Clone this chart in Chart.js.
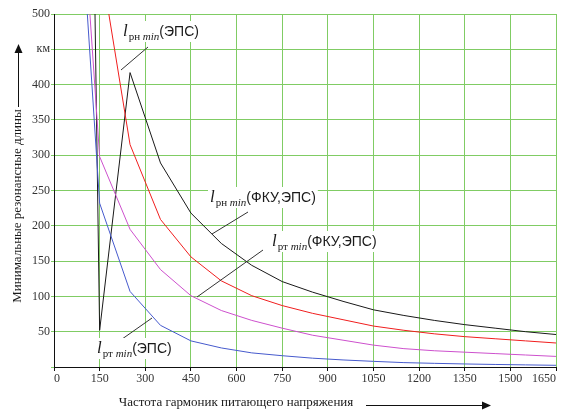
<!DOCTYPE html>
<html>
<head>
<meta charset="utf-8">
<script src="https://cdn.jsdelivr.net/npm/chart.js@4"></script>
<style>
    html, body { margin: 0; padding: 0; background: #fff; }
    #wrap { width: 563px; height: 412px; }
</style>
</head>
<body>
<div id="wrap"><canvas id="res-chart" width="563" height="412"></canvas></div>
<script>
// --- data (odd harmonics, Hz / km) ---
const freqs = [50, 150, 250, 350, 450, 550, 650, 750, 850, 950, 1050, 1150, 1250, 1350, 1450, 1550, 1650];
const lpnEps    = [1700, 580, 315, 209, 156, 122, 101, 87, 76, 67, 58, 52, 47, 43, 40, 37, 34];      // red
const lpnFkuEps = [3000, 52, 417, 289, 218, 175, 144, 121, 106, 93, 81, 73, 66, 60, 55, 50, 46];    // black
const lptFkuEps = [929, 298, 195, 138, 101, 80, 66, 55, 45, 38, 31, 26, 23, 21, 19, 17, 15];        // magenta
const lptEps    = [894, 232, 107, 59, 37, 27, 20, 16, 12.5, 10, 8, 6.2, 5.2, 4.3, 3.6, 3, 2.4];     // blue

const xTickStep = 150;
const yTickStep = 50;
const yUnitTick = 450;   // this tick shows the unit instead of a number
const yUnitLabel = 'км';

const seriesLabels = ['рн', 'рн', 'рт', 'рт'];
const seriesArgs = ['(ЭПС)', '(ФКУ,ЭПС)', '(ФКУ,ЭПС)', '(ЭПС)'];

const gridGreen = '#80cc64';
const serif = '"Liberation Serif", "Times New Roman", serif';
const sans = '"Liberation Sans", Arial, sans-serif';

function toPoints(ys) {
    return freqs.map((f, i) => ({ x: f, y: ys[i] }));
}

// --- labels, leaders, axis titles and arrows ---
function drawMathLabel(ctx, x, y, sub, arg) {
    const parts = [
        { t: 'l', f: 'italic 17px ' + serif, dy: 0 },
        { t: sub, f: '11px ' + serif, dy: 4 },
        { t: ' min', f: 'italic 11px ' + serif, dy: 4 },
        { t: arg, f: '14px ' + sans, dy: 0 }
    ];
    let w = 0;
    parts.forEach(p => { ctx.font = p.f; w += ctx.measureText(p.t).width; });
    ctx.fillStyle = '#fff';
    ctx.fillRect(x - 2, y - 15, w + 5, 21);
    ctx.fillStyle = '#1a1a1a';
    ctx.textAlign = 'left';
    ctx.textBaseline = 'alphabetic';
    let cx = x;
    parts.forEach(p => {
        ctx.font = p.f;
        ctx.fillText(p.t, cx, y + p.dy);
        cx += ctx.measureText(p.t).width + (p.t === 'l' ? 1 : 0);
    });
}

function leader(ctx, x1, y1, x2, y2) {
    ctx.beginPath();
    ctx.moveTo(x1, y1);
    ctx.lineTo(x2, y2);
    ctx.stroke();
}

const decorPlugin = {
    id: 'decor',
    afterDraw(chart) {
        const ctx = chart.ctx;
        ctx.save();
        ctx.strokeStyle = '#333';
        ctx.lineWidth = 1;

        leader(ctx, 148, 47, 121, 70);
        leader(ctx, 248, 212, 212, 234);
        leader(ctx, 263, 250, 197, 297);
        leader(ctx, 152, 318, 115, 344);

        drawMathLabel(ctx, 123, 36, seriesLabels[0], seriesArgs[0]);
        drawMathLabel(ctx, 210, 202, seriesLabels[1], seriesArgs[1]);
        drawMathLabel(ctx, 272, 246, seriesLabels[2], seriesArgs[2]);
        drawMathLabel(ctx, 97, 353, seriesLabels[3], seriesArgs[3]);

        // axis titles
        ctx.fillStyle = '#1a1a1a';
        ctx.font = '13px ' + serif;
        ctx.textAlign = 'center';
        ctx.textBaseline = 'middle';
        ctx.fillText('Частота гармоник питающего напряжения', 236, 403);
        ctx.save();
        ctx.translate(18, 206);
        ctx.rotate(-Math.PI / 2);
        ctx.fillText('Минимальные резонансные длины', 0, 0);
        ctx.restore();

        // arrows
        ctx.strokeStyle = '#111';
        ctx.fillStyle = '#111';
        leader(ctx, 366, 405.5, 483, 405.5);
        ctx.beginPath();
        ctx.moveTo(491, 405.5);
        ctx.lineTo(482, 401.5);
        ctx.lineTo(482, 409.5);
        ctx.closePath();
        ctx.fill();

        leader(ctx, 18.5, 107, 18.5, 52);
        ctx.beginPath();
        ctx.moveTo(18.5, 44);
        ctx.lineTo(14.5, 53);
        ctx.lineTo(22.5, 53);
        ctx.closePath();
        ctx.fill();
        ctx.restore();
    }
};

const lineStyle = { borderWidth: 1, pointRadius: 0, tension: 0, fill: false };

new Chart(document.getElementById('res-chart'), {
    type: 'line',
    data: {
        datasets: [
            { data: toPoints(lptEps), borderColor: 'rgb(70,90,205)', ...lineStyle },
            { data: toPoints(lptFkuEps), borderColor: 'rgb(205,80,205)', ...lineStyle },
            { data: toPoints(lpnEps), borderColor: 'rgb(240,30,30)', ...lineStyle },
            { data: toPoints(lpnFkuEps), borderColor: 'rgb(25,25,25)', ...lineStyle }
        ]
    },
    options: {
        responsive: false,
        animation: false,
        layout: { padding: { top: 14, right: 7, left: 0, bottom: 0 } },
        plugins: { legend: { display: false }, tooltip: { enabled: false } },
        scales: {
            x: {
                type: 'linear',
                min: 0,
                max: 1650,
                ticks: {
                    stepSize: xTickStep,
                    maxRotation: 0,
                    autoSkip: false,
                    align: 'inner',
                    padding: 1,
                    color: '#333',
                    font: { family: serif, size: 12 },
                    callback: v => String(v)
                },
                grid: { color: gridGreen, tickColor: '#111', tickLength: 4 },
                border: { color: '#111', width: 1 },
                afterFit(scale) {
                    scale.height = 45;
                    scale.paddingLeft = 0;
                    scale.paddingRight = 0;
                }
            },
            y: {
                min: 0,
                max: 500,
                ticks: {
                    stepSize: yTickStep,
                    padding: 1,
                    color: '#333',
                    font: { family: serif, size: 12 },
                    callback: v => v === 0 ? '' : (v === yUnitTick ? yUnitLabel : String(v))
                },
                grid: { color: gridGreen, tickColor: gridGreen, tickLength: 3 },
                border: { color: '#111', width: 1 },
                afterFit(scale) {
                    scale.width = 54;
                    scale.paddingTop = 0;
                    scale.paddingBottom = 0;
                }
            }
        }
    },
    plugins: [decorPlugin]
});
</script>
</body>
</html>
